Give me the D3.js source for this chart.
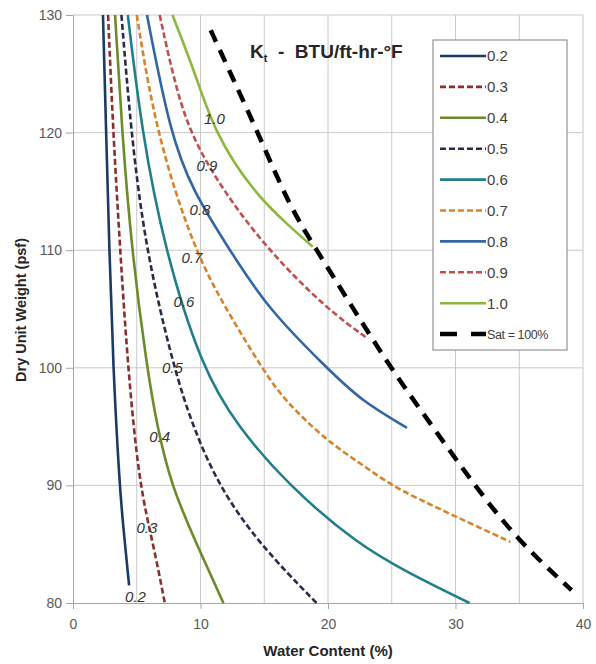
<!DOCTYPE html>
<html>
<head>
<meta charset="utf-8">
<script src="https://cdn.jsdelivr.net/npm/d3@7"></script>
<style>
  body { margin: 0; background: #fff; }
  svg { font-family: "Liberation Sans", Arial, sans-serif; }
</style>
</head>
<body>
<svg id="chart" width="596" height="664"></svg>
<script>
// values: [water content %, dry unit weight psf]
const kLabels = ["0.2", "0.3", "0.4", "0.5", "0.6", "0.7", "0.8", "0.9", "1.0"];

const k02 = [[2.35,130],[2.6,120],[2.85,110],[3.15,100],[3.65,90],[3.95,86.4],[4.4,81.5]];
const k03 = [[2.75,130],[3.15,120],[3.7,110],[4.3,100],[5.2,90],[6.3,85],[7.2,80]];
const k04 = [[3.3,130],[3.85,120],[4.6,110],[5.8,100],[6.6,95],[7.7,90],[9.7,85],[11.8,80]];
const k05 = [[3.8,130],[4.55,120],[5.7,110],[7.9,100],[9.4,95],[11.4,90],[14.6,85],[19.1,80]];
const k06 = [[4.3,130],[5.4,120],[7.2,110],[10.1,100],[12.9,95],[16.9,90],[22.3,85],[26.4,82.5],[31.1,80]];
const k07 = [[5.0,130],[6.5,120],[9.5,110],[12.0,105],[14.8,100],[16.6,97.2],[19.9,93.8],[22.5,91.9],[25.1,89.9],[27.8,88.5],[30.1,87.3],[34.3,85.2]];
const k08 = [[5.8,130],[7.6,120],[9.4,115],[12.3,110],[15.3,105],[19.9,100],[22.6,97.2],[26.2,94.9]];
const k09 = [[6.8,130],[7.8,125],[9.1,120],[11.8,115],[15.3,110],[19.9,105],[23.1,102.5]];
const k10 = [[7.8,130],[9.6,125],[11.1,120],[14.1,115],[16.9,112.1],[18.8,110.3]];
const sat100 = [[10.8,128.7],[12.5,124.7],[14.5,120],[17.0,113.7],[19.0,110.2],[22.0,105],[24.9,100],[28.2,95],[31.5,90],[34.9,85.3],[39.1,81.1]];

// in-plot curve labels
const curveLabelPos = [[4.9,80.5],[5.8,86.4],[6.8,94.1],[7.8,100.0],[8.7,105.6],[9.33,109.4],[9.96,113.4],[10.5,117.2],[11.1,121.2]];

const xTicks = [0, 10, 20, 30, 40];
const yTicks = [80, 90, 100, 110, 120, 130];

const seriesColors = ["#1c3a66", "#8b2e2e", "#6e8b2b", "#2b2a4c", "#217e8a", "#d9822b", "#3465a4", "#c0504d", "#8cb840"];
const seriesDashed = [false, true, false, true, false, true, false, true, false];

const curves = [k02, k03, k04, k05, k06, k07, k08, k09, k10];

const svg = d3.select("#chart");

const x = d3.scaleLinear().domain([0, 40]).range([73, 583]);
const y = d3.scaleLinear().domain([80, 130]).range([603, 15]);

// gridlines
const grid = svg.append("g").attr("stroke", "#c9c9c9").attr("stroke-width", 1);
grid.selectAll("line.v")
  .data(d3.range(5, 41, 5))
  .join("line")
  .attr("x1", d => x(d)).attr("x2", d => x(d))
  .attr("y1", y(130)).attr("y2", y(80));
grid.selectAll("line.h")
  .data(yTicks.slice(1))
  .join("line")
  .attr("x1", x(0)).attr("x2", x(40))
  .attr("y1", d => y(d)).attr("y2", d => y(d));

// axes
const yAxis = svg.append("g")
  .attr("transform", `translate(${x(0)},0)`)
  .call(d3.axisLeft(y).tickValues(yTicks).tickSize(7).tickPadding(4).tickFormat(d3.format("d")));
const xAxis = svg.append("g")
  .attr("transform", `translate(0,${y(80)})`)
  .call(d3.axisBottom(x).tickValues(xTicks).tickSize(6).tickPadding(10).tickFormat(d3.format("d")));

[xAxis, yAxis].forEach(a => {
  a.select(".domain").attr("stroke", "#a6a6a6");
  a.selectAll(".tick line").attr("stroke", "#a6a6a6");
  a.selectAll(".tick text").attr("fill", "#595959").attr("font-size", "14px")
    .attr("font-family", "'Liberation Sans', Arial, sans-serif");
});

// curves
const line = d3.line()
  .x(d => x(d[0]))
  .y(d => y(d[1]))
  .curve(d3.curveBasis);

svg.append("g").selectAll("path")
  .data(curves)
  .join("path")
  .attr("d", line)
  .attr("fill", "none")
  .attr("stroke", (d, i) => seriesColors[i])
  .attr("stroke-width", 2.6)
  .attr("stroke-dasharray", (d, i) => seriesDashed[i] ? "6,3" : null);

svg.append("path")
  .datum(sat100)
  .attr("d", line)
  .attr("fill", "none")
  .attr("stroke", "#000")
  .attr("stroke-width", 4.5)
  .attr("stroke-dasharray", "13,9");

// curve labels
svg.append("g").selectAll("text")
  .data(curveLabelPos)
  .join("text")
  .attr("x", d => x(d[0]))
  .attr("y", d => y(d[1]))
  .attr("dy", "0.35em")
  .attr("text-anchor", "middle")
  .attr("font-size", "15px")
  .attr("font-style", "italic")
  .attr("fill", "#333")
  .text((d, i) => kLabels[i]);

// title
const title = svg.append("text")
  .attr("x", 250).attr("y", 58)
  .attr("font-size", "19px")
  .attr("font-weight", "bold")
  .attr("fill", "#262626");
title.append("tspan").text("K");
title.append("tspan").attr("font-size", "11px").attr("dy", 4).text("t");
title.append("tspan").attr("dy", -4).attr("xml:space", "preserve").text("  -  BTU/ft-hr-°F");

// legend
const legend = svg.append("g");
legend.append("rect")
  .attr("x", 433).attr("y", 40)
  .attr("width", 134).attr("height", 310)
  .attr("fill", "#fff")
  .attr("stroke", "#7f7f7f");

const legendItems = kLabels.map((k, i) => ({ label: k, color: seriesColors[i], dashed: seriesDashed[i], width: 2.6 }))
  .concat([{ label: "Sat = 100%", color: "#000", dashed: true, width: 4.5, sat: true }]);

const rows = legend.selectAll("g.row")
  .data(legendItems)
  .join("g")
  .attr("class", "row")
  .attr("transform", (d, i) => `translate(0,${56 + i * 30.9})`);

rows.append("line")
  .attr("x1", 440).attr("x2", 486)
  .attr("stroke", d => d.color)
  .attr("stroke-width", d => d.width)
  .attr("stroke-dasharray", d => d.sat ? "17,14,15" : (d.dashed ? "6,3" : null));

rows.append("text")
  .attr("x", 487).attr("dy", "0.36em")
  .attr("font-size", d => d.sat ? "12.5px" : "15px")
  .attr("letter-spacing", d => d.sat ? "-0.4px" : null)
  .attr("fill", "#404040")
  .text(d => d.label);

// axis titles
svg.append("text")
  .attr("x", 328).attr("y", 656)
  .attr("text-anchor", "middle")
  .attr("font-size", "15px")
  .attr("font-weight", "bold")
  .attr("fill", "#262626")
  .text("Water Content (%)");

svg.append("text")
  .attr("transform", "translate(26,310) rotate(-90)")
  .attr("text-anchor", "middle")
  .attr("font-size", "14.5px")
  .attr("font-weight", "bold")
  .attr("fill", "#262626")
  .text("Dry Unit Weight (psf)");
</script>
</body>
</html>
